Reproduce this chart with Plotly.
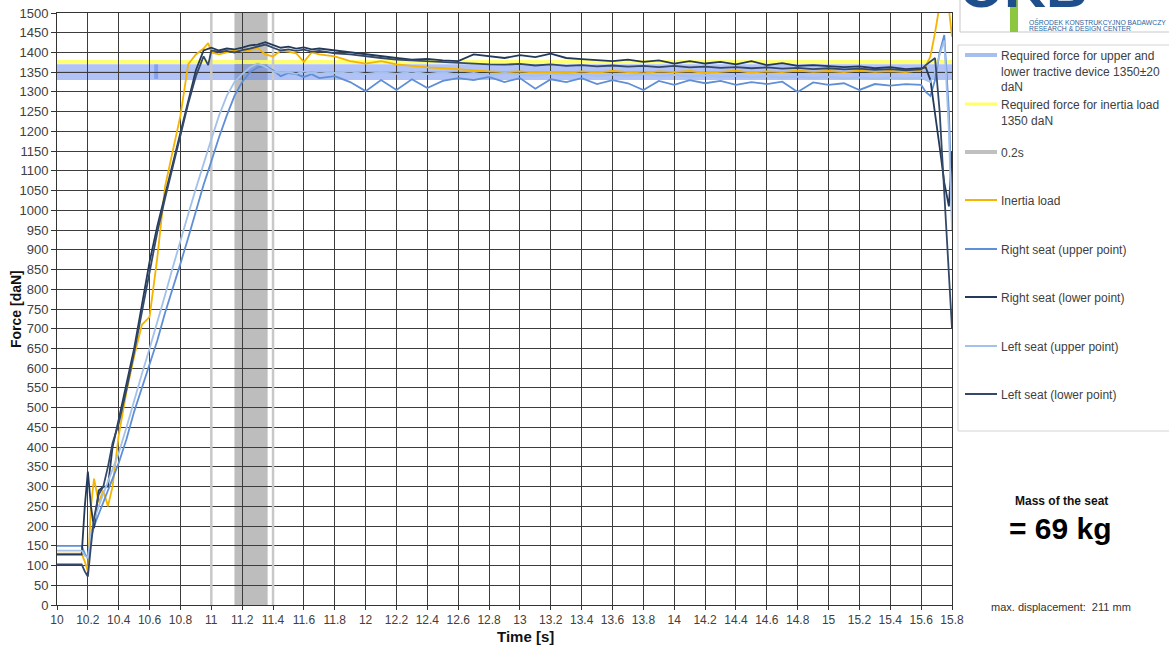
import plotly.graph_objects as go

# ---------------- data ----------------
time_s = [10.00, 10.10, 10.16, 10.18, 10.20, 10.22, 10.24, 10.27, 10.30, 10.33,
          10.36, 10.40, 10.45, 10.50, 10.55, 10.60, 10.65, 10.70, 10.75, 10.80,
          10.85, 10.90, 10.95, 10.98, 11.00, 11.05, 11.10, 11.15, 11.20, 11.25,
          11.30, 11.35, 11.40, 11.45, 11.50, 11.55, 11.60, 11.65, 11.70,
          11.8, 11.9, 12.0, 12.1, 12.2, 12.3, 12.4, 12.5, 12.6, 12.7,
          12.8, 12.9, 13.0, 13.1, 13.2, 13.3, 13.4, 13.5, 13.6, 13.7,
          13.8, 13.9, 14.0, 14.1, 14.2, 14.3, 14.4, 14.5, 14.6, 14.7,
          14.8, 14.9, 15.0, 15.1, 15.2, 15.3, 15.4, 15.5, 15.6,
          15.63, 15.66, 15.69, 15.72, 15.75, 15.78, 15.80]

inertia_load = ([130, 130, 130, 110, 85, 250, 320, 260, 290, 250,
                 300, 430, 540, 630, 710, 730, 880, 1060, 1150, 1240,
                 1370, 1395, 1410, 1424, 1400, 1395, 1400, 1405, 1403, 1406,
                 1412, 1395, 1390, 1405, 1402, 1398, 1376, 1400, 1395]
                + [1390, 1378, 1372, 1378, 1370, 1366, 1362, 1360, 1357, 1354,
                   1352, 1350, 1352, 1349, 1351, 1348, 1352, 1349, 1353, 1350,
                   1347, 1352, 1350, 1353, 1348, 1351, 1354, 1349, 1352, 1350,
                   1354, 1351, 1353, 1350, 1354, 1351, 1353, 1350, 1355]
                + [1365, 1390, 1450, 1520, 1560, 1510, 1440])

right_upper = ([150, 150, 150, 130, 118, 170, 200, 230, 260, 290,
                320, 360, 420, 490, 550, 610, 670, 740, 800, 865,
                930, 1000, 1065, 1100, 1125, 1185, 1240, 1290, 1325, 1350,
                1362, 1366, 1355, 1340, 1348, 1345, 1338, 1345, 1335]
               + [1340, 1325, 1302, 1330, 1305, 1332, 1310, 1328, 1335, 1330,
                  1338, 1325, 1335, 1308, 1332, 1325, 1335, 1320, 1330, 1322,
                  1305, 1328, 1318, 1330, 1322, 1328, 1318, 1325, 1320, 1326,
                  1300, 1324, 1318, 1322, 1305, 1320, 1316, 1320, 1318]
               + [1300, 1290, 1330, 1400, 1444, 1250, 1000])

right_lower = ([128, 128, 128, 250, 338, 250, 195, 290, 300, 300,
                400, 470, 560, 650, 760, 870, 960, 1040, 1120, 1200,
                1280, 1355, 1405, 1410, 1412, 1405, 1410, 1408, 1412, 1418,
                1420, 1426, 1418, 1412, 1415, 1410, 1413, 1408, 1410]
               + [1405, 1400, 1396, 1390, 1386, 1382, 1384, 1380, 1378, 1395,
                  1390, 1386, 1393, 1388, 1397, 1386, 1383, 1380, 1378, 1382,
                  1376, 1380, 1372, 1378, 1372, 1376, 1370, 1378, 1368, 1373,
                  1366, 1368, 1365, 1363, 1365, 1360, 1363, 1358, 1360]
               + [1362, 1330, 1250, 1160, 1070, 1010, 1150])

left_upper = ([138, 138, 138, 125, 120, 180, 215, 250, 280, 310,
               340, 385, 450, 520, 585, 650, 715, 785, 855, 925,
               990, 1055, 1120, 1155, 1180, 1240, 1290, 1325, 1345, 1362,
               1372, 1364, 1352, 1348, 1350, 1346, 1352, 1348, 1352]
              + [1348, 1352, 1345, 1350, 1346, 1352, 1345, 1350, 1344, 1348,
                 1342, 1348, 1344, 1340, 1346, 1342, 1345, 1340, 1344, 1341,
                 1345, 1340, 1343, 1339, 1342, 1338, 1341, 1337, 1340, 1336,
                 1339, 1335, 1338, 1334, 1337, 1333, 1336, 1334, 1336]
              + [1330, 1325, 1350, 1395, 1430, 1200, 950])

left_lower = ([103, 103, 103, 85, 72, 150, 220, 280, 300, 350,
               410, 460, 545, 640, 745, 850, 945, 1030, 1110, 1190,
               1270, 1340, 1390, 1368, 1405, 1402, 1404, 1400, 1406, 1410,
               1415, 1420, 1412, 1405, 1408, 1404, 1407, 1402, 1404]
              + [1398, 1395, 1390, 1386, 1382, 1380, 1377, 1375, 1373, 1372,
                 1370, 1369, 1371, 1367, 1370, 1366, 1368, 1365, 1367, 1364,
                 1366, 1363, 1366, 1362, 1364, 1361, 1363, 1360, 1362, 1359,
                 1361, 1358, 1360, 1357, 1359, 1356, 1358, 1355, 1357]
              + [1368, 1378, 1386, 1250, 1050, 830, 700])

series_names = ["Inertia load", "Right seat (upper point)", "Right seat (lower point)",
                "Left seat (upper point)", "Left seat (lower point)"]
series_values = [inertia_load, right_upper, right_lower, left_upper, left_lower]
series_colors = ["#f5b400", "#5f8fd6", "#243a5a", "#a3c1ea", "#34496a"]

required_center = 1350
required_tol = 20
inertia_band = [1371, 1381]
window_02s = [11.15, 11.365]
x_ticks = [10, 10.2, 10.4, 10.6, 10.8, 11, 11.2, 11.4, 11.6, 11.8, 12, 12.2, 12.4, 12.6,
           12.8, 13, 13.2, 13.4, 13.6, 13.8, 14, 14.2, 14.4, 14.6, 14.8, 15, 15.2, 15.4,
           15.6, 15.8]

# ---------------- layout helpers ----------------
W, H = 1169, 647
L, R, T, B = 57, 952, 13, 605


def px(x):
    return (x - L) / (R - L)


def py(y):
    return (B - y) / (B - T)


FONT = "Liberation Sans, Arial, sans-serif"
TXT = "#404040"

fig = go.Figure()
for name, vals, color in zip(series_names, series_values, series_colors):
    fig.add_trace(go.Scatter(x=time_s, y=vals, mode="lines", name=name,
                             line=dict(color=color, width=1.8),
                             showlegend=False, hoverinfo="skip"))

shapes = []
# 0.2 s window (gray)
shapes.append(dict(type="rect", xref="x", yref="y", x0=window_02s[0], x1=window_02s[1],
                   y0=0, y1=1500, fillcolor="#bdbdbd", line=dict(width=0), layer="below"))
# required force band (blue)
shapes.append(dict(type="rect", xref="x", yref="y", x0=10, x1=15.8,
                   y0=required_center - required_tol, y1=required_center + required_tol,
                   fillcolor="rgba(80,120,235,0.45)", line=dict(width=0), layer="below"))
shapes.append(dict(type="rect", xref="x", yref="y", x0=10.63, x1=10.655,
                   y0=required_center - 17, y1=required_center + 20,
                   fillcolor="rgba(80,120,235,0.45)", line=dict(width=0), layer="below"))
shapes.append(dict(type="line", xref="x", yref="y", x0=10, x1=15.8,
                   y0=required_center, y1=required_center,
                   line=dict(color="rgba(60,95,200,0.55)", width=1), layer="below"))
# inertia band (yellow)
shapes.append(dict(type="rect", xref="x", yref="y", x0=10, x1=15.8,
                   y0=inertia_band[0], y1=inertia_band[1],
                   fillcolor="rgba(255,255,90,0.85)", line=dict(width=0), layer="below"))
# light gray markers at 11.0 and 11.4
for xv in (11.0, 11.4):
    shapes.append(dict(type="line", xref="x", yref="y", x0=xv, x1=xv, y0=0, y1=1500,
                       line=dict(color="#c8c8c8", width=2.5), layer="between"))

# logo box and legend box
shapes.append(dict(type="rect", xref="paper", yref="paper", x0=px(960), x1=px(1175),
                   y0=py(32), y1=py(-5), fillcolor="white", line=dict(color="#c8c8c8", width=1)))
shapes.append(dict(type="rect", xref="paper", yref="paper", x0=px(1010), x1=px(1018),
                   y0=py(32), y1=py(-2), fillcolor="#8dc63f", line=dict(width=0)))
shapes.append(dict(type="rect", xref="paper", yref="paper", x0=px(958), x1=px(1175),
                   y0=py(431), y1=py(45), fillcolor="white", line=dict(color="#d4d4d4", width=1)))

annotations = []
# logo
annotations.append(dict(xref="paper", yref="paper", x=px(1024), y=py(21), xanchor="center",
                        yanchor="bottom", text="<b>OKB</b>", showarrow=False,
                        font=dict(family=FONT, size=58, color="#1f4e8c")))
annotations.append(dict(xref="paper", yref="paper", x=px(1027), y=py(22), xanchor="left",
                        yanchor="middle", text="OŚRODEK KONSTRUKCYJNO BADAWCZY", showarrow=False,
                        font=dict(family=FONT, size=6.8, color="#2d5f9e")))
annotations.append(dict(xref="paper", yref="paper", x=px(1027), y=py(29), xanchor="left",
                        yanchor="middle", text="RESEARCH &amp; DESIGN CENTER", showarrow=False,
                        font=dict(family=FONT, size=6.8, color="#2d5f9e")))

# legend (manual)
legend_items = [
    ("Required force for upper and<br>lower tractive device 1350±20<br>daN", "#a7bff0", 4, 55),
    ("Required force for inertia load<br>1350 daN", "#ffff66", 3, 104),
    ("0.2s", "#c0c0c0", 4, 152),
    ("Inertia load", series_colors[0], 2, 200),
    ("Right seat (upper point)", series_colors[1], 2, 249),
    ("Right seat (lower point)", series_colors[2], 2, 297),
    ("Left seat (upper point)", series_colors[3], 2, 346),
    ("Left seat (lower point)", series_colors[4], 2, 394),
]
for label, color, width, ypix in legend_items:
    shapes.append(dict(type="line", xref="paper", yref="paper", x0=px(965), x1=px(997),
                       y0=py(ypix), y1=py(ypix), line=dict(color=color, width=width)))
    annotations.append(dict(xref="paper", yref="paper", x=px(999), y=py(ypix - 8),
                            xanchor="left", yanchor="top", align="left", text=label,
                            showarrow=False, font=dict(family=FONT, size=12, color=TXT)))

# side texts
annotations.append(dict(xref="paper", yref="paper", x=px(1061), y=py(501), xanchor="center",
                        yanchor="middle", text="<b>Mass of the seat</b>", showarrow=False,
                        font=dict(family=FONT, size=12, color="#111")))
annotations.append(dict(xref="paper", yref="paper", x=px(1060), y=py(528), xanchor="center",
                        yanchor="middle", text="<b>= 69 kg</b>", showarrow=False,
                        font=dict(family=FONT, size=30, color="#000")))
annotations.append(dict(xref="paper", yref="paper", x=px(1061), y=py(607), xanchor="center",
                        yanchor="middle", text="max. displacement:  211 mm", showarrow=False,
                        font=dict(family=FONT, size=11, color="#333")))
# axis titles
annotations.append(dict(xref="paper", yref="paper", x=px(525), y=py(637), xanchor="center",
                        yanchor="middle", text="<b>Time [s]</b>", showarrow=False,
                        font=dict(family=FONT, size=15, color="#111")))
annotations.append(dict(xref="paper", yref="paper", x=px(16), y=py(309), xanchor="center",
                        yanchor="middle", text="<b>Force [daN]</b>", textangle=-90,
                        showarrow=False, font=dict(family=FONT, size=14, color="#111")))

fig.update_layout(
    width=W, height=H,
    margin=dict(l=L, r=W - R, t=T, b=H - B, autoexpand=False),
    paper_bgcolor="white", plot_bgcolor="white",
    shapes=shapes, annotations=annotations,
    font=dict(family=FONT, color=TXT),
    showlegend=False,
)
fig.update_xaxes(range=[10, 15.8], tickvals=x_ticks,
                 ticktext=[("%g" % v) for v in x_ticks],
                 showgrid=True, gridcolor="#3c3c3c", gridwidth=1,
                 showline=True, linecolor="#333", linewidth=1, mirror=True,
                 ticks="outside", ticklen=4, tickcolor="#333", zeroline=False,
                 automargin=False,
                 tickfont=dict(family=FONT, size=12, color=TXT))
fig.update_yaxes(range=[0, 1500], dtick=50, tick0=0,
                 showgrid=True, gridcolor="#3c3c3c", gridwidth=1,
                 showline=True, linecolor="#333", linewidth=1, mirror=True,
                 ticks="outside", ticklen=5, tickcolor="#333", zeroline=False,
                 automargin=False,
                 tickfont=dict(family=FONT, size=13, color=TXT))

fig.write_html("out.html", config={"displayModeBar": False},
               post_script="document.body.style.margin='0px';document.body.style.padding='0px';")
